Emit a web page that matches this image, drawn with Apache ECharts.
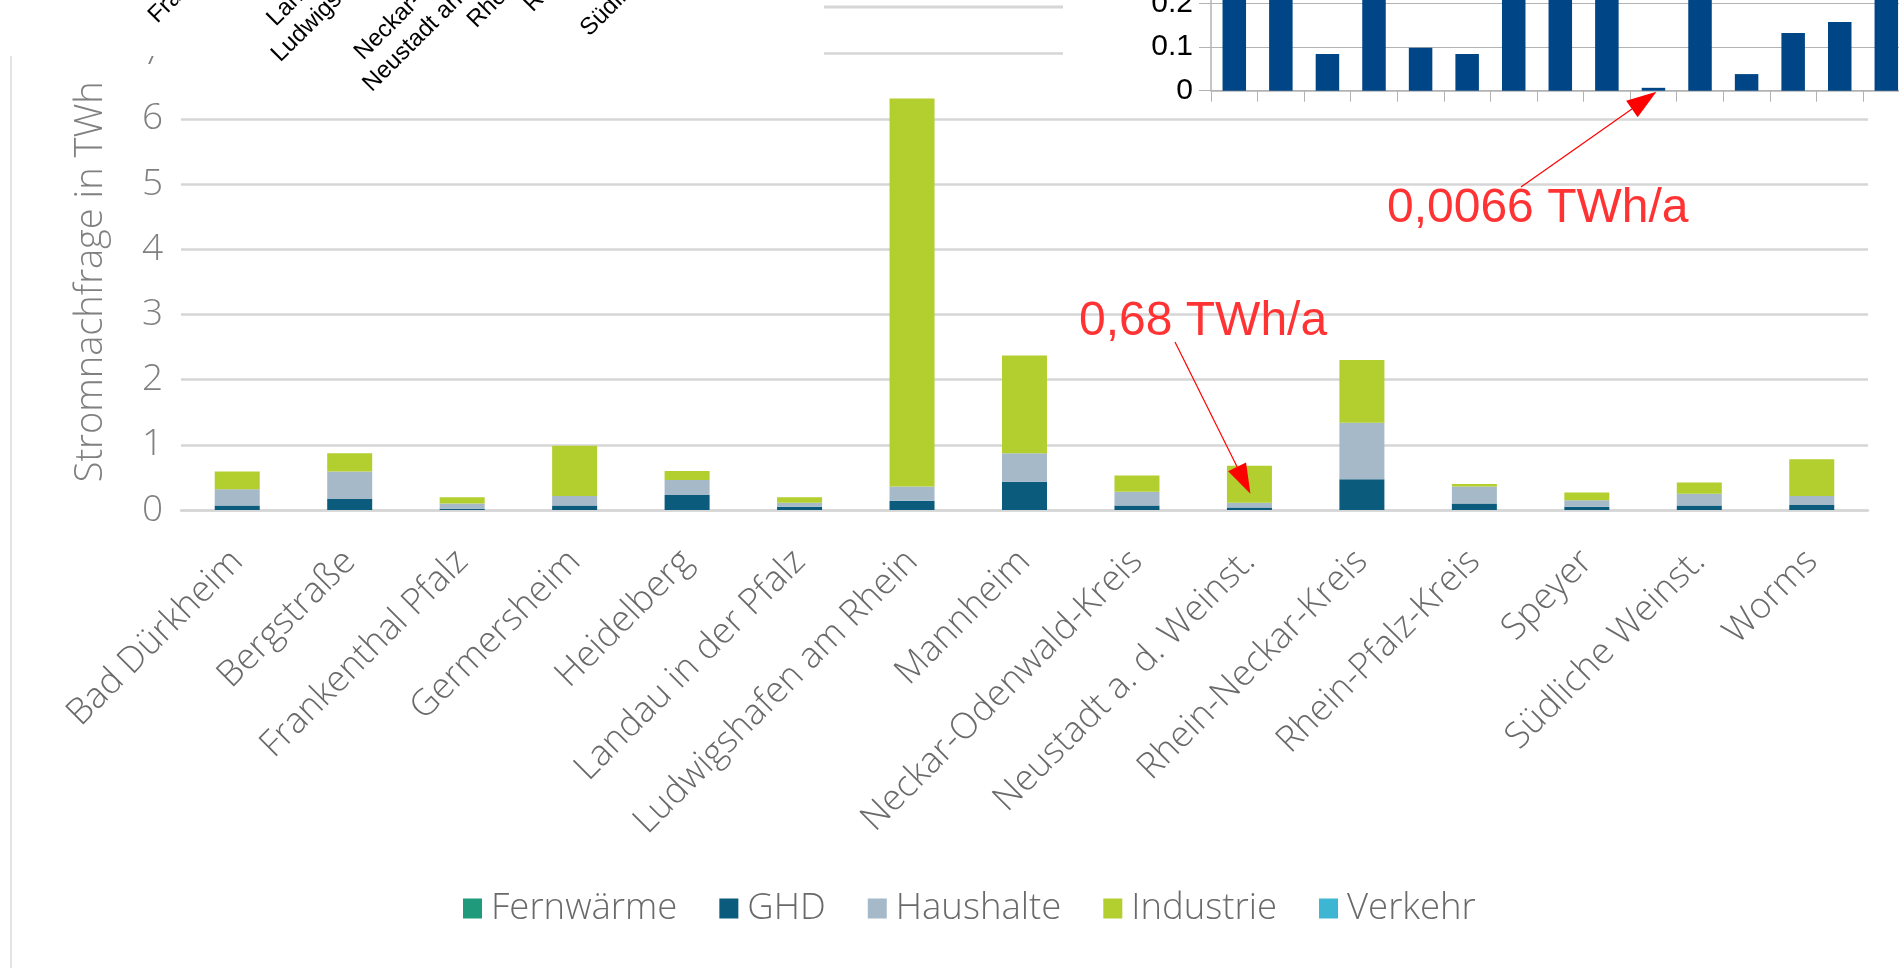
<!DOCTYPE html>
<html>
<head>
<meta charset="utf-8">
<script src="https://cdn.jsdelivr.net/npm/echarts@6/dist/echarts.min.js"></script>
<style>
  html, body { margin: 0; padding: 0; background: #ffffff; }
  #chart { width: 1899px; height: 968px; }
</style>
</head>
<body>
<div id="chart"></div>
<script>
// Regions of the Metropolregion Rhein-Neckar (main stacked chart)
const regions = ['Bad Dürkheim', 'Bergstraße', 'Frankenthal Pfalz', 'Germersheim', 'Heidelberg',
  'Landau in der Pfalz', 'Ludwigshafen am Rhein', 'Mannheim', 'Neckar-Odenwald-Kreis',
  'Neustadt a. d. Weinst.', 'Rhein-Neckar-Kreis', 'Rhein-Pfalz-Kreis', 'Speyer',
  'Südliche Weinst.', 'Worms'];

// Electricity demand per sector in TWh
const fernwaerme = [0, 0, 0, 0, 0, 0, 0, 0, 0, 0, 0, 0, 0, 0, 0];
const ghd        = [0.07, 0.17, 0.02, 0.07, 0.23, 0.05, 0.14, 0.435, 0.07, 0.04, 0.47, 0.10, 0.05, 0.07, 0.075];
const haushalte  = [0.25, 0.42, 0.08, 0.145, 0.23, 0.06, 0.22, 0.435, 0.21, 0.07, 0.87, 0.26, 0.10, 0.18, 0.14];
const industrie  = [0.27, 0.28, 0.095, 0.77, 0.14, 0.085, 5.95, 1.50, 0.25, 0.57, 0.96, 0.04, 0.12, 0.17, 0.565];
const verkehr    = [0, 0, 0, 0, 0, 0, 0, 0, 0, 0, 0, 0, 0, 0, 0];
const sectorNames = ['Fernwärme', 'GHD', 'Haushalte', 'Industrie', 'Verkehr'];
const sectorColors = ['#1f9b7b', '#0b5b7d', '#a5b9c8', '#b2ce2f', '#3db6d4'];

// Second chart: per-district values in TWh/a
const insetRegions = ['Bad Dürkheim', 'Bergstraße', 'Frankenthal (Pfalz)', 'Germersheim', 'Heidelberg',
  'Landau in der Pfalz', 'Ludwigshafen am Rhein', 'Mannheim', 'Neckar-Odenwald-Kreis',
  'Neustadt an der Weinstraße', 'Rhein-Neckar-Kreis', 'Rhein-Pfalz-Kreis', 'Speyer',
  'Südliche Weinstraße', 'Worms'];
const insetValues = [0.25, 0.27, 0.084, 0.23, 0.098, 0.084, 0.26, 0.28, 0.22, 0.0066, 0.29, 0.038, 0.132, 0.157, 0.24];

// Callouts
const noteNeustadt = '0,68 TWh/a';
const noteInset = '0,0066 TWh/a';

const chart = echarts.init(document.getElementById('chart'), null, { renderer: 'canvas' });

const sectorData = [fernwaerme, ghd, haushalte, industrie, verkehr];
const mainSeries = sectorNames.map((name, i) => ({
  name: name,
  type: 'bar',
  stack: 'total',
  xAxisIndex: 0,
  yAxisIndex: 0,
  barWidth: 45,
  itemStyle: { color: sectorColors[i] },
  data: sectorData[i],
  z: 2
}));

const labelGrey = '#6a6a6a';
const tickGrey = '#808080';

const option = {
  animation: false,
  backgroundColor: '#ffffff',
  grid: [
    { left: 181, right: 31, top: 53.6, bottom: 458, containLabel: false, outerBoundsMode: 'none' },
    { left: 1211, right: -10.6, top: -40.4, bottom: 877.3, containLabel: false, outerBoundsMode: 'none', z: 20 },
    { left: 194.8, width: 606.8, top: -300, bottom: 1102, containLabel: false, outerBoundsMode: 'none', z: 20 }
  ],
  legend: {
    data: sectorNames,
    left: 463,
    top: 890,
    padding: 0,
    icon: 'rect',
    itemWidth: 19,
    itemHeight: 20,
    itemGap: 42,
    selectedMode: false,
    textStyle: { fontFamily: 'Open Sans', fontSize: 36.5, color: labelGrey, fontWeight: 300, padding: [0, 0, 0, 4] }
  },
  xAxis: [
    {
      gridIndex: 0,
      type: 'category',
      data: regions,
      axisLine: { show: true, lineStyle: { color: '#d6d6d6', width: 2.5 } },
      axisTick: { show: false },
      axisLabel: {
        rotate: 45,
        interval: 0,
        margin: 46,
        fontFamily: 'Open Sans',
        fontSize: 36,
        fontWeight: 300,
        color: labelGrey
      },
      z: 0
    },
    {
      gridIndex: 1,
      type: 'category',
      data: insetRegions,
      axisLine: { show: true, lineStyle: { color: '#b3b3b3', width: 1.5 } },
      axisTick: { show: true, interval: 0, length: 11, lineStyle: { color: '#b3b3b3', width: 1 } },
      axisLabel: { show: false, interval: 0 },
      z: 20
    },
    {
      gridIndex: 2,
      type: 'category',
      data: insetRegions,
      axisLine: { show: false },
      axisTick: { show: false },
      axisLabel: {
        rotate: 45,
        interval: 0,
        margin: 10,
        fontFamily: 'Liberation Sans',
        fontSize: 24,
        color: '#000000'
      },
      z: 20
    }
  ],
  yAxis: [
    {
      gridIndex: 0,
      type: 'value',
      min: 0,
      max: 7,
      interval: 1,
      name: 'Stromnachfrage in TWh',
      nameLocation: 'middle',
      nameGap: 71,
      nameTextStyle: { fontFamily: 'Open Sans', fontSize: 38, fontWeight: 300, color: tickGrey },
      axisLine: { show: false },
      axisTick: { show: false },
      axisLabel: { margin: 18, fontFamily: 'Open Sans', fontSize: 37, fontWeight: 300, color: tickGrey },
      splitLine: { show: true, lineStyle: { color: '#d6d6d6', width: 2.5 } },
      z: 0
    },
    {
      gridIndex: 1,
      type: 'value',
      min: 0,
      max: 0.3,
      interval: 0.1,
      axisLine: { show: true, lineStyle: { color: '#b3b3b3', width: 1.5 } },
      axisTick: { show: true, length: 12, lineStyle: { color: '#b3b3b3', width: 1 } },
      axisLabel: { margin: 18, fontFamily: 'Liberation Sans', fontSize: 30, color: '#000000' },
      splitLine: { show: true, lineStyle: { color: '#b3b3b3', width: 1 } },
      z: 20
    },
    {
      gridIndex: 2,
      type: 'value',
      show: false,
      splitLine: { show: false }
    }
  ],
  series: mainSeries.concat([
    {
      name: 'Wert',
      type: 'bar',
      xAxisIndex: 1,
      yAxisIndex: 1,
      barWidth: 23.5,
      itemStyle: { color: '#004586' },
      data: insetValues,
      clip: true,
      z: 21
    }
  ])
};

chart.setOption(option);

// Callout arrows: a thin line ending in a filled head at the tip
function arrow(sx, sy, tx, ty, headLen, headHalf) {
  const dx = tx - sx, dy = ty - sy;
  const len = Math.sqrt(dx * dx + dy * dy);
  const ux = dx / len, uy = dy / len;
  const bx = tx - ux * headLen, by = ty - uy * headLen;
  const nx = -uy, ny = ux;
  return [
    { type: 'line', z: 40, shape: { x1: sx, y1: sy, x2: bx, y2: by }, style: { stroke: '#ff0000', lineWidth: 1.2 } },
    { type: 'polygon', z: 40, shape: { points: [[tx, ty], [bx + nx * headHalf, by + ny * headHalf], [bx - nx * headHalf, by - ny * headHalf]] }, style: { fill: '#ff0000' } }
  ];
}

const tipInset = chart.convertToPixel({ xAxisIndex: 1, yAxisIndex: 1 }, [9, 0]);
const tipMain = chart.convertToPixel({ xAxisIndex: 0, yAxisIndex: 0 }, [9, 0.25]);

const graphics = [
  // white panel behind the rotated district names (top left)
  { type: 'rect', z: 10, shape: { x: 0, y: 0, width: 824, height: 56 }, style: { fill: '#ffffff' } },
  // white panel behind the small bar chart (top right)
  { type: 'rect', z: 10, shape: { x: 1063, y: 0, width: 836, height: 108 }, style: { fill: '#ffffff' } },
  // stray rule between the two panels
  { type: 'line', z: 11, shape: { x1: 824, y1: 7, x2: 1063, y2: 7 }, style: { stroke: '#d6d6d6', lineWidth: 3 } },
  // frame of the main chart
  { type: 'line', z: 1, shape: { x1: 11, y1: 56, x2: 11, y2: 968 }, style: { stroke: '#e4e4e4', lineWidth: 2 } },
  // callout texts
  { type: 'text', z: 40, x: 1079, y: 322, style: { text: noteNeustadt, font: '48px "Liberation Sans"', fill: '#ff3333', textAlign: 'left', textVerticalAlign: 'middle', verticalAlign: 'middle' } },
  { type: 'text', z: 40, x: 1387, y: 209, style: { text: noteInset, font: '48px "Liberation Sans"', fill: '#ff3333', textAlign: 'left', textVerticalAlign: 'middle', verticalAlign: 'middle' } }
]
  .concat(arrow(1175, 342, tipMain[0] + 1, tipMain[1], 30, 10))
  .concat(arrow(1521, 187, tipInset[0] + 3, tipInset[1] + 1, 30, 10));

chart.setOption({ graphic: graphics });
</script>
</body>
</html>
